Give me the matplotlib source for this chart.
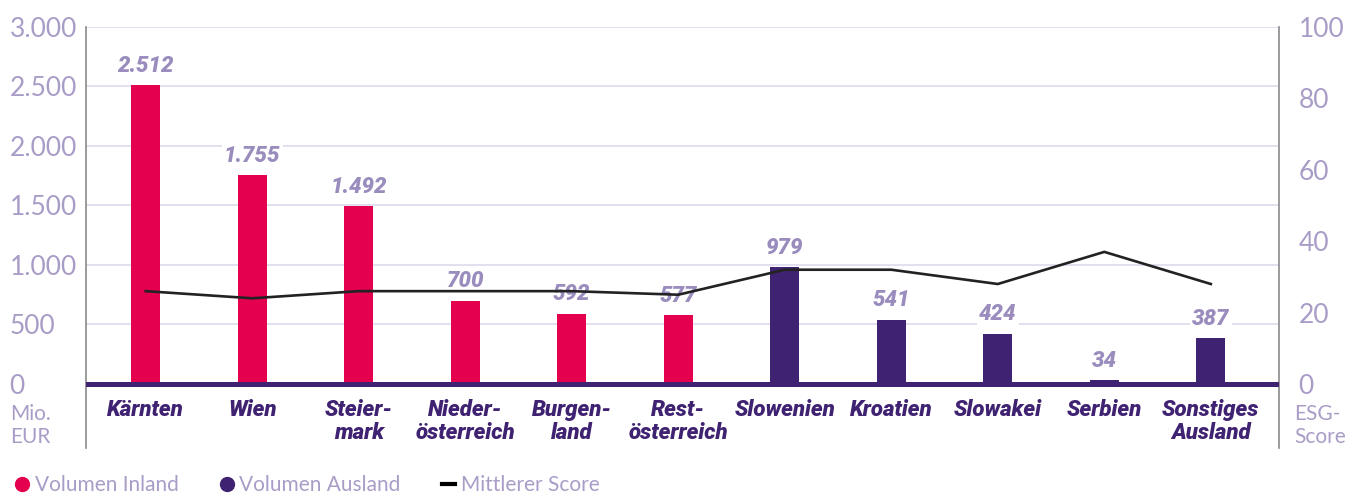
import matplotlib.pyplot as plt
from matplotlib.lines import Line2D

# data
categories = ['Kärnten', 'Wien', 'Steier-\nmark', 'Nieder-\nösterreich', 'Burgen-\nland',
              'Rest-\nösterreich', 'Slowenien', 'Kroatien', 'Slowakei', 'Serbien',
              'Sonstiges\nAusland']
volumes = [2512, 1755, 1492, 700, 592, 577, 979, 541, 424, 34, 387]
value_labels = ['2.512', '1.755', '1.492', '700', '592', '577', '979', '541', '424', '34', '387']
inland = [True, True, True, True, True, True, False, False, False, False, False]
scores = [26, 24, 26, 26, 26, 25, 32, 32, 28, 37, 28]
left_ticks = [0, 500, 1000, 1500, 2000, 2500, 3000]
left_tick_labels = ['0', '500', '1.000', '1.500', '2.000', '2.500', '3.000']
right_ticks = [0, 20, 40, 60, 80, 100]

PINK = '#E4004F'
PURPLE = '#402272'
LAV = '#A99DC8'
LAV_DARK = '#9A8DBE'
GRID = '#DDD9EB'
FONT = ['Lato', 'DejaVu Sans']
BOLD_FONT = ['Roboto', 'DejaVu Sans']

plt.rcParams['font.family'] = FONT

fig = plt.figure(figsize=(13.51, 4.93), dpi=100)
ax = fig.add_axes([0.0637, 0.0913, 0.883, 0.854])

x = list(range(len(categories)))
colors = [PINK if f else PURPLE for f in inland]
ax.bar(x, volumes, width=0.27, color=colors, zorder=2)

ax.set_xlim(-0.56, 10.64)
ax.set_ylim(-538, 3000)
ax.set_yticks(left_ticks)
ax.set_yticklabels(left_tick_labels)
ax.set_xticks([])
ax.tick_params(axis='y', length=0, pad=55, labelsize=19, labelcolor=LAV)
for lbl in ax.get_yticklabels():
    lbl.set_ha('left')
for t in left_ticks[1:]:
    ax.axhline(t, color=GRID, lw=1.2, zorder=0)
ax.axhline(0, color=PURPLE, lw=3.6, zorder=3)

for s in ['top', 'bottom']:
    ax.spines[s].set_visible(False)
for s in ['left', 'right']:
    ax.spines[s].set_color('#8a8a8a')
    ax.spines[s].set_linewidth(1.2)

for i, v in enumerate(volumes):
    ax.annotate(value_labels[i], (i, v), xytext=(0, 6), textcoords='offset points',
                ha='center', va='bottom', fontsize=16, fontweight='black',
                fontstyle='italic', color=LAV_DARK, zorder=4, family=BOLD_FONT,
                bbox=dict(boxstyle='square,pad=0.1', fc='white', ec='none'))
    ax.annotate(categories[i], (i, 0), xytext=(0, -11), textcoords='offset points',
                ha='center', va='top', fontsize=16, fontweight='black',
                fontstyle='italic', color=PURPLE, linespacing=1.05, family=BOLD_FONT)

ax2 = ax.twinx()
ax2.set_ylim(-538 / 30, 100)
ax2.set_yticks(right_ticks)
ax2.tick_params(axis='y', length=0, pad=14, labelsize=19, labelcolor=LAV)
for s in ax2.spines.values():
    s.set_visible(False)
ax2.plot(x, scores, color='#222222', lw=1.9, zorder=5)

fig.text(0.0075, 0.18, 'Mio.\nEUR', fontsize=15, color=LAV,
         va='top', ha='left', linespacing=1.15)
fig.text(0.958, 0.18, 'ESG-\nScore', fontsize=15, color=LAV,
         va='top', ha='left', linespacing=1.15)

handles = [
    Line2D([], [], ls='none', marker='o', markersize=10, color=PINK),
    Line2D([], [], ls='none', marker='o', markersize=10, color=PURPLE),
    Line2D([], [], color='black', lw=3),
]
leg = fig.legend(handles, ['Volumen Inland', 'Volumen Ausland', 'Mittlerer Score'],
                 loc='lower left', bbox_to_anchor=(-0.002, -0.042), ncol=3, frameon=False,
                 fontsize=15, handlelength=0.6, handletextpad=0.3, columnspacing=2.0)
for t in leg.get_texts():
    t.set_color(LAV)

fig.savefig('out.png', dpi=100)
